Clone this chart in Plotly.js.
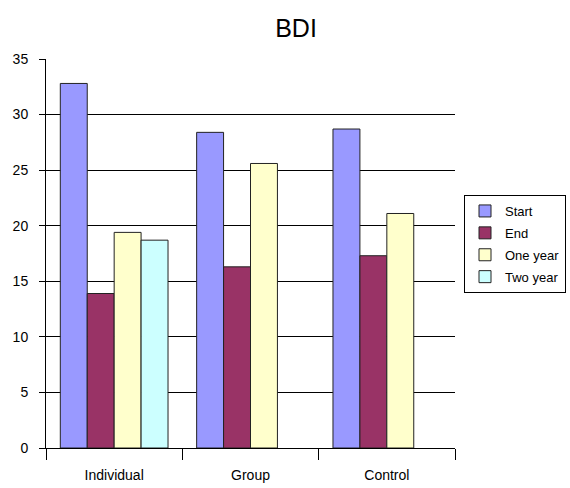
<!DOCTYPE html>
<html>
<head>
<meta charset="utf-8">
<script src="https://cdn.plot.ly/plotly-3.0.1.min.js"></script>
<style>
  html, body { margin: 0; padding: 0; background: #fff; }
  #chart { width: 570px; height: 488px; }
</style>
</head>
<body>
<div id="chart"></div>
<script>
// BDI scores by treatment group over time
const groups = ["Individual", "Group", "Control"];
const seriesNames = ["Start", "End", "One year", "Two year"];
const startVals = [32.8, 28.4, 28.7];
const endVals = [13.9, 16.3, 17.3];
const oneYearVals = [19.4, 25.6, 21.1];
const twoYearVals = [18.7, null, null];
const yTicks = [0, 5, 10, 15, 20, 25, 30, 35];

const colors = ["#9999FF", "#993366", "#FFFFCC", "#CCFFFF"];
const values = [startVals, endVals, oneYearVals, twoYearVals];

// one legend group per series so the legend rows get a little extra spacing
const traces = values.map((v, i) => ({
  type: "bar",
  name: seriesNames[i],
  legendgroup: "g" + i,
  x: groups,
  y: v,
  marker: { color: colors[i], line: { color: "#222", width: 1 } },
  hoverinfo: "x+y+name"
}));

const font = { family: "Liberation Sans, Arial, sans-serif", color: "#000" };

const layout = {
  width: 570,
  height: 488,
  margin: { l: 46, r: 115, t: 59, b: 40, pad: 0, autoexpand: false },
  paper_bgcolor: "#fff",
  plot_bgcolor: "#fff",
  barmode: "group",
  bargap: 0.21,
  bargroupgap: 0,
  font: Object.assign({ size: 14 }, font),
  title: {
    text: "BDI",
    font: Object.assign({ size: 25 }, font),
    x: 296 / 570,
    xanchor: "center",
    y: 1 - 28 / 488,
    yanchor: "middle"
  },
  xaxis: {
    type: "category",
    range: [-0.5, 2.5],
    tickson: "boundaries",
    ticks: "outside",
    ticklen: 11,
    tickcolor: "#000",
    tickwidth: 1,
    ticklabelstandoff: 14,
    showline: true,
    linecolor: "#000",
    linewidth: 1,
    showgrid: false,
    tickfont: Object.assign({ size: 14 }, font),
    fixedrange: true
  },
  yaxis: {
    range: [0, 35],
    tickvals: yTicks,
    ticktext: yTicks.map(String),
    ticks: "outside",
    ticklen: 6,
    tickcolor: "#000",
    ticklabelstandoff: 8,
    showline: true,
    linecolor: "#000",
    linewidth: 1,
    showgrid: true,
    gridcolor: "#000",
    gridwidth: 1,
    zeroline: false,
    tickfont: Object.assign({ size: 14 }, font),
    fixedrange: true
  },
  showlegend: true,
  legend: {
    xref: "container",
    yref: "container",
    x: 464 / 570,
    xanchor: "left",
    y: 1 - 195 / 488,
    yanchor: "top",
    bgcolor: "#fff",
    bordercolor: "#000",
    borderwidth: 1,
    itemwidth: 30,
    font: Object.assign({ size: 13 }, font),
    tracegroupgap: 2,
    traceorder: "grouped"
  }
};

Plotly.newPlot("chart", traces, layout, { displayModeBar: false, staticPlot: true });
</script>
</body>
</html>
